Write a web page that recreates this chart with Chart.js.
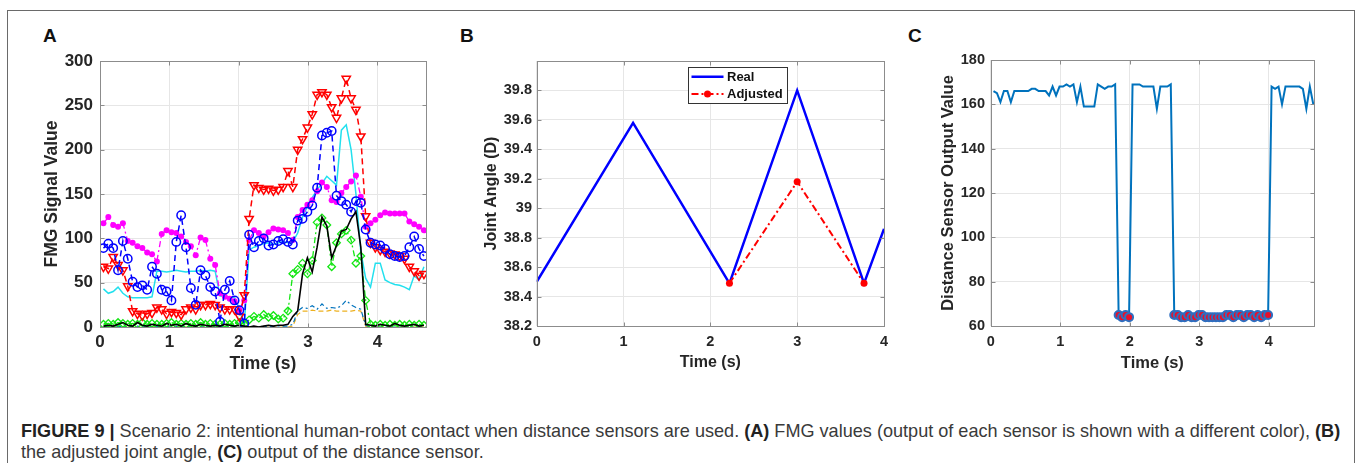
<!DOCTYPE html>
<html><head><meta charset="utf-8">
<script src="https://cdn.jsdelivr.net/npm/chart.js@4.4.1/dist/chart.umd.min.js"></script>
<style>
html,body{margin:0;padding:0;background:#fff;width:1358px;height:463px;overflow:hidden;font-family:"Liberation Sans",Arial,sans-serif;}
#frame{position:absolute;left:7px;top:10px;width:1348px;height:470px;border:1px solid #6a6a6a;border-bottom:none;box-sizing:border-box;}
canvas{position:absolute;top:0;}
.letter{position:absolute;top:26px;font:bold 19px/19px "Liberation Sans",Arial,sans-serif;color:#111;}
#caption{position:absolute;left:21px;top:421px;font-size:18.1px;line-height:21px;color:#3a3a3a;white-space:nowrap;}
#caption b{color:#222;}
</style></head>
<body>
<div id="frame"></div>
<div class="letter" style="left:43px">A</div>
<div class="letter" style="left:460px">B</div>
<div class="letter" style="left:908px">C</div>
<canvas id="cA" width="450" height="390" style="left:0px"></canvas>
<canvas id="cB" width="450" height="390" style="left:450px"></canvas>
<canvas id="cC" width="450" height="390" style="left:900px"></canvas>
<div id="caption"><b>FIGURE 9 |</b> Scenario 2: intentional human-robot contact when distance sensors are used. <b>(A)</b> FMG values (output of each sensor is shown with a different color), <b>(B)</b><br>the adjusted joint angle, <b>(C)</b> output of the distance sensor.</div>
<script>
// ---------- Panel A data (FMG signals) ----------
const timeA = [0.05,0.12,0.19,0.26,0.33,0.40,0.47,0.54,0.61,0.68,0.75,0.82,0.89,0.96,1.03,1.10,1.17,1.24,1.31,1.38,1.45,1.52,1.59,1.66,1.73,1.80,1.87,1.94,2.01,2.08,2.15,2.22,2.29,2.36,2.43,2.50,2.57,2.64,2.71,2.78,2.85,2.92,2.99,3.06,3.13,3.20,3.27,3.34,3.41,3.48,3.55,3.62,3.69,3.76,3.83,3.90,3.97,4.04,4.11,4.18,4.25,4.32,4.39,4.46,4.53,4.60,4.67];
const fmgMagenta = [117,124,115,113,117,97,95,91,89,84,82,74,105,109,107,106,102,96,91,81,101,98,77,70,38,34,32,29,19,30,98,109,106,102,107,111,110,109,106,98,124,132,138,143,153,163,158,143,141,151,158,164,171,147,113,117,121,126,129,128,128,128,128,119,116,113,109];
const fmgBlue = [89,94,89,64,97,77,51,45,47,42,68,60,42,40,30,96,126,90,44,25,64,58,45,40,6,42,52,30,19,4,104,90,97,100,92,93,97,99,96,93,120,122,130,137,157,216,219,221,148,142,138,130,142,140,110,95,93,92,88,82,80,79,80,90,102,88,80];
const fmgRed = [68,66,79,70,64,46,18,15,13,15,16,22,20,15,17,16,14,20,22,20,25,25,26,25,22,20,20,20,12,36,122,160,157,155,156,154,155,158,176,158,200,212,225,240,262,265,262,248,236,258,280,258,245,215,125,95,90,87,85,83,82,80,77,68,63,58,60];
const fmgCyan = [43,38,40,45,38,34,33,33,33,33,34,63,63,62,63,64,63,62,63,63,64,63,64,63,35,34,34,33,20,2,87,90,92,94,95,93,95,96,95,96,106,124,136,146,155,162,170,165,160,222,228,200,150,85,55,45,72,72,53,50,48,47,45,42,58,53,68];
const fmgGreen = [3,4,3,5,4,3,4,3,5,3,4,3,3,4,5,3,4,3,4,3,5,3,4,3,3,4,3,4,5,3,8,12,10,14,11,13,9,10,18,60,65,72,60,75,118,123,115,68,95,105,109,98,72,80,30,3,2,3,2,3,2,3,2,3,2,3,2];
const fmgBlack = [1,2,1,3,5,2,1,5,2,1,3,2,1,4,2,3,1,4,2,1,3,2,1,2,1,3,2,1,2,1,0,1,0,1,2,1,2,2,3,12,18,60,78,62,90,124,114,78,92,108,110,122,130,90,3,2,1,3,2,1,4,2,1,2,3,1,2];
const fmgTeal = [0,1,0,1,0,1,0,1,0,1,0,1,0,1,0,1,0,1,0,1,0,1,0,1,0,1,0,1,0,1,0,1,0,1,0,1,0,1,1,3,18,22,21,24,20,26,21,22,21,24,30,25,22,20,2,0,0,0,0,0,0,0,0,0,0,0,0];
const fmgYellow = [0,0,0,0,0,0,0,0,0,0,0,0,0,0,0,0,0,0,0,0,0,0,0,0,0,0,0,0,0,0,0,0,0,0,0,0,0,0,0,1,14,18,18,19,18,18,18,19,18,18,18,18,19,18,1,0,0,0,0,0,0,0,0,0,0,0,0];
const xTicksA = [0,1,2,3,4];
const yTicksA = [0,50,100,150,200,250,300];

// ---------- Panel B data (joint angle) ----------
const timeReal = [0,1.11,2.22,3.0,3.77,4.0];
const angleReal = [38.5,39.58,38.49,39.8,38.49,38.86];
const timeAdj = [2.22,3.0,3.77];
const angleAdj = [38.49,39.18,38.49];
const xTicksB = [0,1,2,3,4];
const yTicksB = [38.2,38.4,38.6,38.8,39,39.2,39.4,39.6,39.8];
const yTickLabelsB = ['38.2','38.4','38.6','38.8','39','39.2','39.4','39.6','39.8'];

// ---------- Panel C data (distance sensor) ----------
const timeC = [0.04,0.09,0.14,0.19,0.24,0.29,0.34,0.39,0.44,0.49,0.54,0.59,0.64,0.69,0.74,0.79,0.84,0.89,0.94,0.99,1.04,1.09,1.14,1.19,1.24,1.29,1.34,1.39,1.44,1.49,1.54,1.59,1.64,1.69,1.74,1.79,1.84,1.89,1.94,1.99,2.04,2.09,2.14,2.19,2.24,2.29,2.34,2.39,2.44,2.49,2.54,2.59,2.64,2.69,2.74,2.79,2.84,2.89,2.94,2.99,3.04,3.09,3.14,3.19,3.24,3.29,3.34,3.39,3.44,3.49,3.54,3.59,3.64,3.69,3.74,3.79,3.84,3.89,3.94,3.99,4.04,4.09,4.14,4.19,4.24,4.29,4.34,4.39,4.44,4.49,4.54,4.59,4.64];
const distC = [166,165,161,166,166,161,166,166,166,166,166,167,167,166,166,166,164,168,164,168,168,169,168,169,161,168,159,159,159,159,169,168,167,168,168,169,65,64,65,64,169,169,169,168,168,168,168,158,168,168,168,169,65,65,64,64,65,64,64,65,65,64,64,64,64,64,64,65,65,64,65,65,64,65,65,64,65,64,65,65,168,167,168,160,168,168,168,168,168,167,158,168,160];
const contactThreshold = 100;
const xTicksC = [0,1,2,3,4];
const yTicksC = [60,80,100,120,140,160,180];

// ---------- helpers ----------
const FONT = '"Liberation Sans", Arial, Helvetica, sans-serif';
const TXT = '#262626';
const xy = (ts, vs) => ts.map((t, i) => ({x: t, y: vs[i]}));

const frameBox = {
  id: 'frameBox',
  afterDatasetsDraw(chart) {
    const {ctx, chartArea: a, scales} = chart;
    ctx.save();
    ctx.strokeStyle = '#8c8c8c';
    ctx.lineWidth = 1;
    ctx.setLineDash([]);
    const L = Math.round(a.left) + 0.5, T = Math.round(a.top) + 0.5;
    const R = Math.round(a.right) + 0.5, B = Math.round(a.bottom) + 0.5;
    ctx.strokeRect(L, T, R - L, B - T);
    ctx.beginPath();
    const k = 4;
    scales.x.ticks.forEach(t => {
      const p = Math.round(scales.x.getPixelForValue(t.value)) + 0.5;
      ctx.moveTo(p, B); ctx.lineTo(p, B - k);
      ctx.moveTo(p, T); ctx.lineTo(p, T + k);
    });
    scales.y.ticks.forEach(t => {
      const p = Math.round(scales.y.getPixelForValue(t.value)) + 0.5;
      ctx.moveTo(L, p); ctx.lineTo(L + k, p);
      ctx.moveTo(R, p); ctx.lineTo(R - k, p);
    });
    ctx.stroke();
    ctx.restore();
  }
};

const innerLegend = {
  id: 'innerLegend',
  afterDraw(chart, args, o) {
    if (!o || !o.display) return;
    const {ctx, chartArea: a} = chart;
    const x = Math.round(a.left + o.dx) + 0.5, y = Math.round(a.top + o.dy) + 0.5;
    ctx.save();
    ctx.fillStyle = '#fff';
    ctx.fillRect(x, y, o.w, o.h);
    ctx.strokeStyle = '#333';
    ctx.lineWidth = 1;
    ctx.strokeRect(x, y, o.w, o.h);
    ctx.font = 'bold 13px ' + FONT;
    ctx.textBaseline = 'middle';
    chart.data.datasets.forEach((ds, i) => {
      const cy = y + o.rowTop + i * o.rowGap;
      ctx.strokeStyle = ds.borderColor;
      ctx.lineWidth = ds.borderWidth;
      ctx.setLineDash(ds.borderDash || []);
      ctx.beginPath(); ctx.moveTo(x + 3, cy); ctx.lineTo(x + 35, cy); ctx.stroke();
      ctx.setLineDash([]);
      if (ds.pointRadius > 0) {
        ctx.fillStyle = ds.pointBackgroundColor;
        ctx.beginPath(); ctx.arc(x + 19, cy, ds.pointRadius, 0, Math.PI * 2); ctx.fill();
      }
      ctx.fillStyle = '#111';
      ctx.fillText(ds.label, x + 38.5, cy + 0.5);
    });
    ctx.restore();
  }
};

function makeChart(id, datasets, cfg) {
  const tickLookup = (vals, labels) => (v) => {
    const i = vals.findIndex(t => Math.abs(t - v) < 1e-6);
    return i >= 0 ? (labels ? labels[i] : String(vals[i])) : '';
  };
  return new Chart(document.getElementById(id), {
    type: 'line',
    data: {datasets},
    options: {
      responsive: false,
      devicePixelRatio: 1,
      animation: false,
      events: [],
      layout: {padding: cfg.padding},
      plugins: {legend: {display: false}, tooltip: {enabled: false}, innerLegend: cfg.legend || {display: false}},
      elements: {line: {tension: 0}},
      scales: {
        x: {
          type: 'linear', min: cfg.xmin, max: cfg.xmax,
          afterBuildTicks: s => { s.ticks = cfg.xTicks.map(v => ({value: v})); },
          afterFit: s => { s.height = cfg.xH; },
          border: {display: false},
          grid: {color: '#e6e6e6', lineWidth: 1, drawTicks: false},
          ticks: {padding: cfg.xTickPad, color: TXT, font: {family: FONT, size: cfg.tickSize, weight: 'bold'}, maxRotation: 0, autoSkip: false, callback: tickLookup(cfg.xTicks)},
          title: {display: true, text: cfg.xTitle, color: TXT, font: {family: FONT, size: cfg.titleSize, weight: 'bold'}, padding: {top: 0, bottom: 0}}
        },
        y: {
          type: 'linear', min: cfg.ymin, max: cfg.ymax,
          afterBuildTicks: s => { s.ticks = cfg.yTicks.map(v => ({value: v})); },
          afterFit: s => { s.width = cfg.yW; },
          border: {display: false},
          grid: {color: '#e6e6e6', lineWidth: 1, drawTicks: false},
          ticks: {padding: cfg.yTickPad, color: TXT, font: {family: FONT, size: cfg.tickSize, weight: 'bold'}, autoSkip: false, callback: tickLookup(cfg.yTicks, cfg.yLabels)},
          title: {display: true, text: cfg.yTitle, color: TXT, font: {family: FONT, size: cfg.titleSize, weight: 'bold'}, padding: {top: cfg.yTitlePad, bottom: 0}}
        }
      }
    },
    plugins: [frameBox, innerLegend]
  });
}

// ---------- Panel A ----------
makeChart('cA', [
  {label: 'S6', data: xy(timeA, fmgBlack), borderColor: '#000000', borderWidth: 1.6, pointRadius: 0},
  {label: 'S2', data: xy(timeA, fmgBlue), borderColor: '#0000ff', borderWidth: 1.5, borderDash: [6, 4], pointStyle: 'circle', pointRadius: 4.2, pointBorderWidth: 1.5, pointBorderColor: '#0000ff', pointBackgroundColor: 'rgba(255,255,255,0)'},
  {label: 'S3', data: xy(timeA, fmgRed), borderColor: '#ff0000', borderWidth: 1.5, borderDash: [6, 4], pointStyle: 'triangle', pointRotation: 180, pointRadius: 4.8, pointBorderWidth: 1.5, pointBorderColor: '#ff0000', pointBackgroundColor: 'rgba(255,255,255,0)'},
  {label: 'S5', data: xy(timeA, fmgGreen), borderColor: '#14e614', borderWidth: 1.3, borderDash: [6, 3, 2, 3], pointStyle: 'rectRot', pointRadius: 3.8, pointBorderWidth: 1.3, pointBorderColor: '#14e614', pointBackgroundColor: 'rgba(255,255,255,0)'},
  {label: 'S1', data: xy(timeA, fmgMagenta), borderColor: '#ff00ff', borderWidth: 1.3, borderDash: [6, 3, 2, 3], pointStyle: 'circle', pointRadius: 3, pointBorderWidth: 0, pointBackgroundColor: '#ff00ff'},
  {label: 'S4', data: xy(timeA, fmgCyan), borderColor: '#22e0ee', borderWidth: 1.5, pointRadius: 0},
  {label: 'S7', data: xy(timeA, fmgTeal), borderColor: '#0072bd', borderWidth: 1.2, borderDash: [5, 3, 2, 3], pointRadius: 0},
  {label: 'S8', data: xy(timeA, fmgYellow), borderColor: '#edb120', borderWidth: 1.2, borderDash: [5, 3], pointRadius: 0}
], {
  padding: {left: 0, top: 61, right: 24, bottom: 15},
  xmin: 0, xmax: 4.7, ymin: 0, ymax: 300, xTicks: xTicksA, yTicks: yTicksA,
  xH: 48, yW: 100, xTickPad: 5, yTickPad: 7, tickSize: 17, titleSize: 17.5,
  xTitle: 'Time (s)', yTitle: 'FMG Signal Value', yTitlePad: 41.5
});

// ---------- Panel B ----------
makeChart('cB', [
  {label: 'Real', data: xy(timeReal, angleReal), borderColor: '#0000ff', borderWidth: 2.5, pointRadius: 0, order: 1},
  {label: 'Adjusted', data: xy(timeAdj, angleAdj), borderColor: '#ff0000', borderWidth: 2, borderDash: [7, 3, 2, 3], pointRadius: 3.5, pointBorderWidth: 0, pointBackgroundColor: '#ff0000', order: 0}
], {
  padding: {left: 0, top: 61, right: 16, bottom: 17.4},
  xmin: 0, xmax: 4, ymin: 38.2, ymax: 40, xTicks: xTicksB, yTicks: yTicksB, yLabels: yTickLabelsB,
  xH: 46.6, yW: 86.7, xTickPad: 7.3, yTickPad: 4.7, tickSize: 14.5, titleSize: 16,
  xTitle: 'Time (s)', yTitle: 'Joint Angle (D)', yTitlePad: 32.4,
  legend: {display: true, dx: 151.3, dy: 6, w: 99, h: 36, rowTop: 9.3, rowGap: 17.3}
});

// ---------- Panel C ----------
makeChart('cC', [
  {label: 'Contact', data: xy(timeC, distC.map(v => v < contactThreshold ? v : null)), showLine: false, pointStyle: 'circle', pointRadius: 4, pointBorderWidth: 2, pointBorderColor: '#2f6fc0', pointBackgroundColor: '#e8102a'},
  {label: 'Distance', data: xy(timeC, distC), borderColor: '#0072bd', borderWidth: 2, pointRadius: 0}
], {
  padding: {left: 0, top: 60, right: 36, bottom: 17.1},
  xmin: 0, xmax: 4.65, ymin: 60, ymax: 180, xTicks: xTicksC, yTicks: yTicksC,
  xH: 46.9, yW: 90.7, xTickPad: 7.3, yTickPad: 5.7, tickSize: 14.5, titleSize: 16.5,
  xTitle: 'Time (s)', yTitle: 'Distance Sensor Output Value', yTitlePad: 38.1
});
</script>
</body></html>
